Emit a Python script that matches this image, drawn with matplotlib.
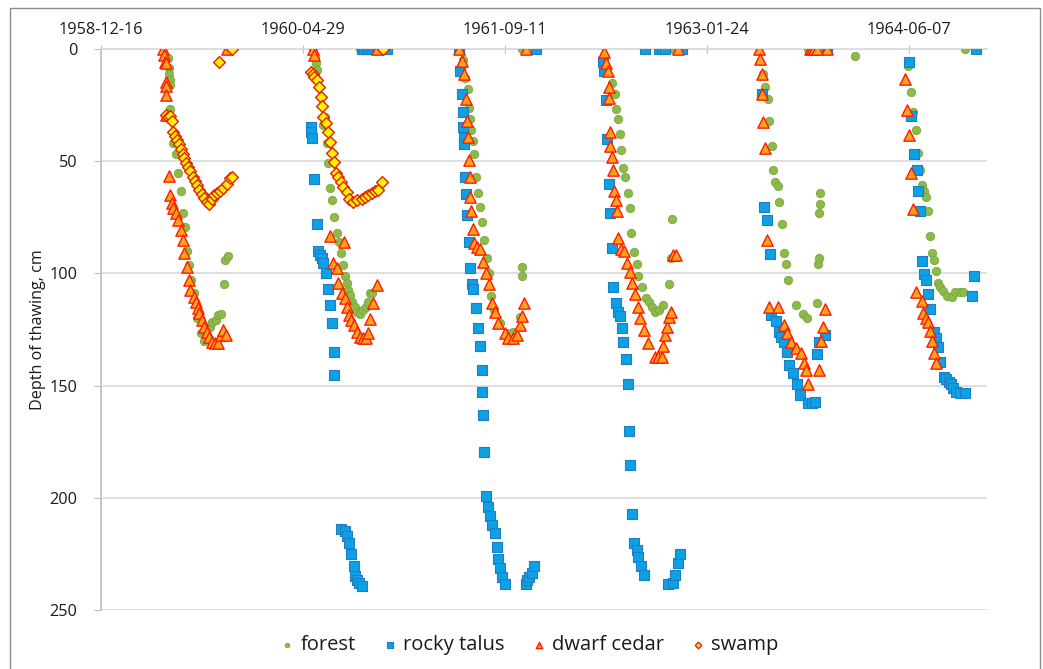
import numpy as np
import matplotlib
matplotlib.use("Agg")
import matplotlib.pyplot as plt
import matplotlib.dates as mdates
from matplotlib.patches import Rectangle

plt.rcParams['font.family'] = ['Open Sans', 'DejaVu Sans']

BASE_DATE = "1958-12-16"   # days below are counted from this date

# ---- forest ----
forest_day = [167, 168, 168, 171, 170, 171, 179, 186, 191, 198, 202, 208, 212, 218, 222, 229, 237, 247, 256, 270, 274, 285, 290, 296, 304, 307, 315,
              525, 530, 532, 534, 554, 550, 559, 563, 567, 572, 577, 583, 590, 593, 598, 604, 608, 612, 616, 622, 629, 634, 641, 649, 656, 662, 666, 672, 641,
              895, 901, 909, 911, 913, 917, 920, 923, 928, 934, 938, 944, 949, 955, 961, 965, 973, 988, 1004, 1021, 1036, 1043, 1043, 1043,
              1266, 1271, 1275, 1279, 1284, 1288, 1293, 1298, 1305, 1309, 1313, 1319, 1326, 1330, 1338, 1349, 1357, 1363, 1371, 1382, 1392, 1407, 1411, 1414, 1417,
              1638, 1643, 1650, 1654, 1660, 1664, 1668, 1675, 1679, 1685, 1690, 1695, 1701, 1720, 1737, 1748, 1771, 1774, 1776, 1778, 1779, 1779, 1751, 1866,
              1998, 2006, 2010, 2017, 2023, 2027, 2031, 2037, 2042, 2047, 2052, 2057, 2062, 2068, 2072, 2077, 2083, 2093, 2107, 2113, 2125, 2134, 2138]
forest_depth = [4.2, 8.6, 11.1, 13.8, 16, 26.9, 42, 46.8, 55.1, 63.1, 73.2, 79.2, 89.9, 96.3, 103, 108.6, 120, 126.7, 130, 123.7, 121.5, 120.8, 118.5, 118.2, 104.9, 94, 92.2,
                0, 3.4, 6.4, 9.4, 30.1, 33.9, 42, 50.9, 62.1, 67.3, 75, 81.9, 85.9, 91, 96.3, 101.2, 104.4, 107.4, 109.6, 112.6, 114.8, 117.1, 118, 116.3, 114.8, 112.6, 108.9, 108.9, 0,
                4.9, 13.1, 18, 26.2, 31, 36.1, 40.8, 46.9, 56.9, 64, 70.3, 77, 85.1, 93.3, 100, 110, 116.3, 122, 126.7, 126, 119.3, 101.2, 97, 0,
                15, 20.2, 26.9, 31, 38, 45, 53.2, 56.9, 64, 71, 81.9, 90.3, 95.9, 101.2, 105.9, 110.8, 112.6, 114.8, 117.1, 116.3, 114.1, 104.9, 93.3, 75.9, 0,
                11.1, 17.1, 22.3, 32.1, 43.1, 53.9, 59.1, 61, 68, 78, 91, 95.9, 103, 114.1, 118, 120, 113, 95.9, 93, 72.9, 69.1, 64, 0, 3,
                7.4, 19.3, 28.2, 36.1, 46.2, 53.9, 60.6, 63.1, 66.1, 72, 83.2, 91, 94, 98.9, 104.1, 105.9, 107.8, 109.9, 110.4, 108.4, 108.4, 108.4, 0]

# ---- rocky talus ----
talus_day = [520, 521, 523, 527, 534, 538, 542, 546, 550, 557, 563, 568, 572, 577, 577, 594, 604, 610, 614, 619, 625, 629, 633, 639, 647,
             645, 652, 658, 664, 670, 676, 684, 692, 700, 708,
             886, 889, 894, 895, 897, 899, 898, 901, 903, 905, 911, 913, 919, 921, 928, 932, 938, 942, 944, 946, 949, 953, 959, 963, 969, 975, 979, 983, 988, 993, 1000,
             1052, 1055, 1060, 1066, 1072, 1077,
             1242, 1246, 1250, 1252, 1257, 1260, 1264, 1268, 1275, 1279, 1285, 1289, 1293, 1299, 1305, 1307, 1309, 1315, 1319, 1326, 1330, 1336, 1343,
             1403, 1415, 1421, 1427, 1432, 1346, 1380, 1388, 1396, 1437,
             1635, 1642, 1649, 1656, 1658, 1670, 1677, 1682, 1690, 1699, 1704, 1714, 1722, 1731, 1749, 1759, 1767, 1771, 1776, 1792, 1798,
             2001, 2006, 2013, 2019, 2023, 2027, 2031, 2037, 2043, 2047, 2052, 2061, 2068, 2072, 2077, 2086, 2092, 2098, 2104, 2110, 2117, 2125, 2139, 2155, 2161, 2167]
talus_depth = [34.6, 36.8, 39.8, 58.1, 78, 89.9, 91.8, 93.3, 95.5, 100, 107.1, 114.1, 122, 135.2, 145.1, 214, 214.8, 217, 220.3, 225, 230.3, 234.7, 236.6, 238.1, 239.2,
               0, 0, 0, 0, 0, 0, 0, 0, 0, 0,
               0, 9.8, 20, 27.9, 34.9, 39.8, 42.3, 56.9, 64.8, 74, 85.9, 97.7, 104.7, 107, 115.6, 124.2, 132.4, 143, 153, 163.1, 179.4, 199.2, 204, 208, 212.1, 215.8, 222, 227.3, 231.1, 235.1, 238.4,
               238.4, 236.6, 235.1, 233.4, 230.3, 0,
               5.9, 9.8, 22.7, 40.2, 60.2, 73.2, 88.8, 106.2, 113, 117.1, 119, 124.5, 130.4, 138.3, 149.3, 170.2, 185.4, 207.2, 220.3, 223.3, 226.2, 230.3, 234.4,
               238.4, 238.1, 234.4, 229.2, 225.2, 0, 0, 0, 0, 0,
               20.2, 70.3, 76.2, 91.4, 118.5, 121, 126, 128.2, 130.4, 135.2, 140.8, 144.2, 149.3, 154.2, 157.9, 157.9, 157.2, 136.1, 130.4, 127.5, 0,
               5.9, 29.8, 46.9, 53.9, 63.3, 72, 94.3, 100.3, 103, 109.2, 116, 126, 128.9, 132.7, 139.3, 146, 147.2, 148.2, 149.4, 151.2, 152.7, 153.1, 153.1, 110, 101.2, 0]

# ---- dwarf cedar ----
cedar_day = [154, 156, 158, 160, 160, 161, 160, 160, 168, 171, 175, 179, 185, 191, 197, 202, 206, 212, 218, 221, 229, 234, 239, 243, 249, 255, 262, 268, 275, 282, 290, 297, 303, 309, 311,
             525, 527, 567, 602, 575, 583, 587, 596, 604, 608, 614, 619, 626, 633, 641, 649, 656, 662, 667, 674, 682, 682,
             887, 893, 899, 903, 907, 909, 911, 913, 913, 917, 920, 923, 930, 938, 945, 953, 960, 969, 975, 983, 1000, 1008, 1021, 1030, 1036, 1041, 1047, 1052,
             1246, 1249, 1256, 1257, 1258, 1260, 1261, 1266, 1268, 1270, 1275, 1276, 1279, 1287, 1295, 1303, 1309, 1315, 1322, 1330, 1334, 1343, 1355, 1371, 1379, 1388,
             1390, 1396, 1400, 1406, 1412, 1416, 1422, 1427,
             1629, 1631, 1635, 1635, 1638, 1643, 1649, 1653, 1675, 1691, 1699, 1708, 1720, 1732, 1741, 1745, 1751, 1776, 1781, 1786, 1792, 1754, 1759, 1764, 1771, 1798,
             1990, 1996, 2000, 2006, 2010, 2017, 2031, 2035, 2042, 2047, 2052, 2058, 2062, 2066]
cedar_depth = [0, 2.7, 5.6, 6.3, 14.6, 16.5, 20.5, 29.4, 56.5, 65, 68.7, 71, 73, 76, 80.6, 85, 91, 97, 103, 107.4, 110.4, 112.6, 115.5, 117.7, 120.8, 123.7, 126, 128.2, 130.4, 130.8, 130.8, 127.5, 125.2, 127.5, 0,
               0, 2.7, 83.3, 85.9, 95.5, 97.7, 104.4, 108.9, 111.1, 114.8, 118.5, 120.8, 123, 126, 128.2, 129, 129, 126.7, 120.4, 113.3, 105.2, 0,
               0, 5.3, 11.3, 22.3, 31.9, 39.1, 49.5, 56.9, 66.1, 72, 80.2, 86.6, 88.1, 89.3, 94.8, 100, 104.9, 113.3, 117.4, 122, 126.4, 128.9, 129, 127.5, 123, 119, 113, 0,
               1.2, 6.1, 9.8, 17.1, 22, 36.8, 43.1, 48, 53.9, 63.3, 67.3, 72, 84.4, 89.3, 90, 95.2, 99.2, 104.4, 109.2, 115.1, 120, 125.2, 131.1, 137.1, 137.1, 137.1,
               132.4, 127.5, 123.7, 119.3, 117.4, 91.8, 92, 0,
               0, 4.6, 11.1, 20.2, 32.4, 44.3, 85.1, 115.1, 115.1, 123, 126.7, 130.4, 133.4, 135.3, 140.1, 143, 149.3, 143, 130, 124, 116, 0, 0, 0, 0, 0,
               13.4, 27.2, 38.3, 55.1, 71.5, 108.4, 112.1, 117.5, 119.7, 121.5, 125.7, 130.1, 135.3, 140.1]

# ---- swamp ----
swamp_day = [160, 167, 171, 175, 179, 183, 187, 193, 198, 202, 206, 210, 215, 220, 227, 233, 237, 243, 249, 255, 262, 268, 274, 280, 286, 295, 303, 311, 319, 325, 292, 325,
             521, 525, 528, 534, 540, 544, 547, 550, 557, 561, 567, 571, 577, 582, 587, 593, 598, 608, 614, 623, 634, 645, 653, 662, 670, 678, 685, 696, 699]
swamp_depth = [29.4, 30.1, 29.8, 31.9, 36.8, 38.8, 40.6, 42.3, 44.7, 46.8, 48.7, 50.9, 52.4, 54.2, 56.9, 58.7, 60.6, 62.8, 64.6, 66.2, 68, 69.1, 67, 65.1, 64, 63.1, 62.1, 60.3, 57.6, 56.9, 5.9, 0,
               10.1, 11.1, 12.6, 13.8, 17.1, 21.2, 25.4, 30.1, 33.1, 36.8, 41.3, 46.2, 50.2, 55.1, 56.9, 59.1, 61.4, 63.6, 67, 68, 67.3, 67, 66.1, 65.1, 64, 63.1, 62.8, 59.1, 0]

tick_step_days = 500
x_max_days = 2193
y_ticks = [0, 50, 100, 150, 200, 250]

base = np.datetime64(BASE_DATE)
def to_dates(days):
    return base + np.array(days, dtype='timedelta64[D]')

fig = plt.figure(figsize=(10.43, 6.69), dpi=100)
ax = fig.add_axes([101/1043, 1 - 610/669, 886/1043, 561/669])

ax.scatter(to_dates(forest_day), forest_depth, marker='o', s=36, color='#8DBB4A',
           edgecolors='#7AA63E', linewidths=0.6, label='forest', zorder=3)
ax.scatter(to_dates(talus_day), talus_depth, marker='s', s=56, color='#0EA0E6',
           edgecolors='#1C7FC2', linewidths=0.8, label='rocky talus', zorder=4)
ax.scatter(to_dates(cedar_day), cedar_depth, marker='^', s=66, color='#FFA21C',
           edgecolors='#FF1A00', linewidths=1.0, label='dwarf cedar', zorder=5)
ax.scatter(to_dates(swamp_day), swamp_depth, marker='D', s=36, color='#FFF000',
           edgecolors='#E0200A', linewidths=1.0, label='swamp', zorder=6)

ax.set_xlim(base, base + np.timedelta64(x_max_days, 'D'))
ax.set_ylim(250, 0)
ax.set_yticks(y_ticks)
xt = [base + np.timedelta64(k * tick_step_days, 'D') for k in range(5)]
ax.set_xticks(xt)
ax.xaxis.set_major_formatter(mdates.DateFormatter('%Y-%m-%d'))
ax.xaxis.tick_top()
ax.tick_params(axis='x', direction='inout', length=6, color='#BFBFBF', labelsize=11.7,
               labelcolor='#1A1A1A', pad=5)
ax.tick_params(axis='y', direction='out', length=5, color='#BFBFBF', labelsize=11.7,
               labelcolor='#1A1A1A', pad=12)
for lbl in ax.get_xticklabels():
    lbl.set_horizontalalignment('center')

ax.grid(axis='y', color='#D9D9D9', linewidth=1.2)
ax.set_axisbelow(True)
for s in ['right', 'bottom']:
    ax.spines[s].set_visible(False)
ax.spines['top'].set_color('#D9D9D9')
ax.spines['top'].set_linewidth(1.2)
ax.spines['left'].set_color('#BFBFBF')
ax.spines['left'].set_linewidth(1.2)

ax.set_ylabel('Depth of thawing, cm', fontsize=11.6, color='#1A1A1A')
ax.yaxis.set_label_coords((46 - 101) / 886, 0.5)

leg = fig.legend(loc='center', bbox_to_anchor=(530/1043, 1 - 645/669), ncol=4,
                 frameon=False, fontsize=14.5, markerscale=0.55, handlelength=0.6,
                 handletextpad=0.35, columnspacing=1.4)
for t in leg.get_texts():
    t.set_color('#1A1A1A')

fig.patches.append(Rectangle((9.5/1043, -0.01), 1030/1043, 1 - 8/669 + 0.01,
                             transform=fig.transFigure, fill=False,
                             edgecolor='#8C8C8C', linewidth=1.0))

fig.savefig('out.png', dpi=100)
